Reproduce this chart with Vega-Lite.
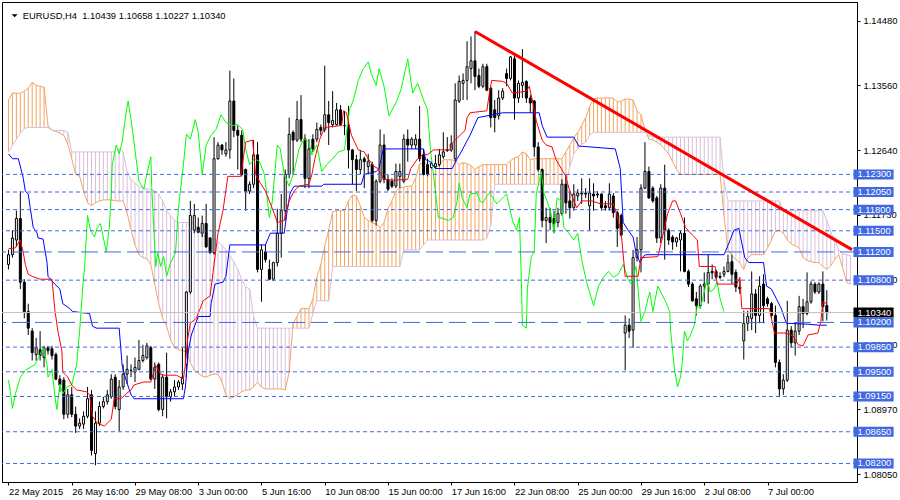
{
"$schema": "https://vega.github.io/schema/vega-lite/v6.json",
"width": 855, "height": 480,
"autosize": {"type": "none"},
"padding": {"left": 2, "top": 2, "right": 43, "bottom": 18},
"background": "white",
"config": {"view": {"stroke": "black", "strokeWidth": 1}, "font": "Liberation Sans"},
"datasets": {
"bars": [
{"i":0,"o":1.11022,"h":1.1123,"l":1.10952,"c":1.11161},
{"i":1,"o":1.11161,"h":1.11508,"l":1.11119,"c":1.11397},
{"i":2,"o":1.11369,"h":1.11785,"l":1.11272,"c":1.11674},
{"i":3,"o":1.11674,"h":1.12063,"l":1.10674,"c":1.10771},
{"i":4,"o":1.10771,"h":1.10813,"l":1.10258,"c":1.10354},
{"i":5,"o":1.10354,"h":1.10466,"l":1.10022,"c":1.10119},
{"i":6,"o":1.10077,"h":1.10119,"l":1.0966,"c":1.09772},
{"i":7,"o":1.09744,"h":1.0998,"l":1.0966,"c":1.09841},
{"i":8,"o":1.09813,"h":1.10077,"l":1.0966,"c":1.0973},
{"i":9,"o":1.09702,"h":1.09869,"l":1.09563,"c":1.09841},
{"i":10,"o":1.09841,"h":1.09869,"l":1.09744,"c":1.09799},
{"i":11,"o":1.09827,"h":1.09869,"l":1.09674,"c":1.0973},
{"i":12,"o":1.09744,"h":1.09772,"l":1.09382,"c":1.09396},
{"i":13,"o":1.09396,"h":1.09452,"l":1.09216,"c":1.09313},
{"i":14,"o":1.09382,"h":1.09424,"l":1.08827,"c":1.08897},
{"i":15,"o":1.08897,"h":1.09257,"l":1.08841,"c":1.09174},
{"i":16,"o":1.09174,"h":1.09285,"l":1.08855,"c":1.08897},
{"i":17,"o":1.08897,"h":1.09008,"l":1.08633,"c":1.0873},
{"i":18,"o":1.0873,"h":1.08841,"l":1.08688,"c":1.08772},
{"i":19,"o":1.08758,"h":1.08939,"l":1.08688,"c":1.08869},
{"i":20,"o":1.08869,"h":1.09285,"l":1.08841,"c":1.09118},
{"i":21,"o":1.09174,"h":1.09243,"l":1.08313,"c":1.08383},
{"i":22,"o":1.08341,"h":1.08939,"l":1.08174,"c":1.08772},
{"i":23,"o":1.08772,"h":1.09077,"l":1.0873,"c":1.09008},
{"i":24,"o":1.09008,"h":1.09146,"l":1.0898,"c":1.09077},
{"i":25,"o":1.09077,"h":1.09243,"l":1.09035,"c":1.09174},
{"i":26,"o":1.09146,"h":1.09466,"l":1.09118,"c":1.09396},
{"i":27,"o":1.09424,"h":1.09466,"l":1.08966,"c":1.09008},
{"i":28,"o":1.08966,"h":1.09382,"l":1.08661,"c":1.09285},
{"i":29,"o":1.09285,"h":1.09605,"l":1.09243,"c":1.09466},
{"i":30,"o":1.09466,"h":1.0973,"l":1.09327,"c":1.09535},
{"i":31,"o":1.09521,"h":1.09605,"l":1.09424,"c":1.09519},
{"i":32,"o":1.09494,"h":1.09702,"l":1.09355,"c":1.09563},
{"i":33,"o":1.09535,"h":1.09952,"l":1.09521,"c":1.0966},
{"i":34,"o":1.0966,"h":1.09883,"l":1.09633,"c":1.0973},
{"i":35,"o":1.09702,"h":1.09911,"l":1.09674,"c":1.09869},
{"i":36,"o":1.09841,"h":1.09869,"l":1.09382,"c":1.09396},
{"i":37,"o":1.09396,"h":1.09633,"l":1.09257,"c":1.09563},
{"i":38,"o":1.09605,"h":1.09633,"l":1.08939,"c":1.08966},
{"i":39,"o":1.08966,"h":1.09466,"l":1.08869,"c":1.09424},
{"i":40,"o":1.09424,"h":1.09772,"l":1.08841,"c":1.09146},
{"i":41,"o":1.09146,"h":1.09257,"l":1.09077,"c":1.09216},
{"i":42,"o":1.09216,"h":1.09382,"l":1.09146,"c":1.09285},
{"i":43,"o":1.09285,"h":1.09382,"l":1.09243,"c":1.09355},
{"i":44,"o":1.09327,"h":1.09841,"l":1.09243,"c":1.09424},
{"i":45,"o":1.09605,"h":1.10645,"l":1.09424,"c":1.10632},
{"i":46,"o":1.10632,"h":1.11924,"l":1.10605,"c":1.11716},
{"i":47,"o":1.11508,"h":1.11882,"l":1.11466,"c":1.11716},
{"i":48,"o":1.11549,"h":1.11688,"l":1.11466,"c":1.1148},
{"i":49,"o":1.11466,"h":1.11716,"l":1.11411,"c":1.11604},
{"i":50,"o":1.11604,"h":1.11882,"l":1.11258,"c":1.11272},
{"i":51,"o":1.11397,"h":1.11411,"l":1.11175,"c":1.11188},
{"i":52,"o":1.11188,"h":1.12828,"l":1.11161,"c":1.12522},
{"i":53,"o":1.12522,"h":1.12758,"l":1.12508,"c":1.12716},
{"i":54,"o":1.12716,"h":1.1273,"l":1.12577,"c":1.12647},
{"i":55,"o":1.12591,"h":1.12758,"l":1.1255,"c":1.12647},
{"i":56,"o":1.12647,"h":1.13772,"l":1.12522,"c":1.13341},
{"i":57,"o":1.13341,"h":1.13661,"l":1.12828,"c":1.12924},
{"i":58,"o":1.12924,"h":1.12993,"l":1.12369,"c":1.12855},
{"i":59,"o":1.12855,"h":1.12924,"l":1.12272,"c":1.12299},
{"i":60,"o":1.12369,"h":1.12383,"l":1.11785,"c":1.12063},
{"i":61,"o":1.12063,"h":1.12202,"l":1.12021,"c":1.1216},
{"i":62,"o":1.1216,"h":1.12786,"l":1.12105,"c":1.12577},
{"i":63,"o":1.12577,"h":1.12758,"l":1.1091,"c":1.10952},
{"i":64,"o":1.10952,"h":1.113,"l":1.10493,"c":1.1123},
{"i":65,"o":1.11202,"h":1.113,"l":1.11049,"c":1.11091},
{"i":66,"o":1.10952,"h":1.11091,"l":1.108,"c":1.10813},
{"i":67,"o":1.10813,"h":1.11063,"l":1.10785,"c":1.11049},
{"i":68,"o":1.11049,"h":1.11813,"l":1.10994,"c":1.11466},
{"i":69,"o":1.11466,"h":1.12021,"l":1.11119,"c":1.11785},
{"i":70,"o":1.11785,"h":1.12369,"l":1.11646,"c":1.12299},
{"i":71,"o":1.12299,"h":1.13105,"l":1.12244,"c":1.12869},
{"i":72,"o":1.12897,"h":1.12924,"l":1.12299,"c":1.12786},
{"i":73,"o":1.12786,"h":1.13341,"l":1.12758,"c":1.13077},
{"i":74,"o":1.13077,"h":1.13424,"l":1.12758,"c":1.128},
{"i":75,"o":1.128,"h":1.12869,"l":1.12105,"c":1.12244},
{"i":76,"o":1.12244,"h":1.128,"l":1.12105,"c":1.12661},
{"i":77,"o":1.128,"h":1.12869,"l":1.12619,"c":1.12661},
{"i":78,"o":1.128,"h":1.13035,"l":1.12758,"c":1.12938},
{"i":79,"o":1.12966,"h":1.13007,"l":1.12855,"c":1.12924},
{"i":80,"o":1.12938,"h":1.13841,"l":1.12897,"c":1.13146},
{"i":81,"o":1.13146,"h":1.13341,"l":1.12716,"c":1.13035},
{"i":82,"o":1.13007,"h":1.1348,"l":1.12966,"c":1.13063},
{"i":83,"o":1.13007,"h":1.13313,"l":1.12993,"c":1.13216},
{"i":84,"o":1.13216,"h":1.13285,"l":1.12993,"c":1.13007},
{"i":85,"o":1.12993,"h":1.13202,"l":1.12855,"c":1.1299},
{"i":86,"o":1.12993,"h":1.13271,"l":1.12383,"c":1.12647},
{"i":87,"o":1.12647,"h":1.12661,"l":1.1216,"c":1.12508},
{"i":88,"o":1.12508,"h":1.12577,"l":1.12063,"c":1.12369},
{"i":89,"o":1.12369,"h":1.12647,"l":1.12299,"c":1.12508},
{"i":90,"o":1.12522,"h":1.1255,"l":1.12105,"c":1.1248},
{"i":91,"o":1.12411,"h":1.12591,"l":1.12299,"c":1.1248},
{"i":92,"o":1.12438,"h":1.1248,"l":1.11618,"c":1.11646},
{"i":93,"o":1.11646,"h":1.1223,"l":1.11577,"c":1.12202},
{"i":94,"o":1.12202,"h":1.12938,"l":1.12174,"c":1.12716},
{"i":95,"o":1.12716,"h":1.12869,"l":1.12174,"c":1.1223},
{"i":96,"o":1.1223,"h":1.12299,"l":1.12063,"c":1.12091},
{"i":97,"o":1.12202,"h":1.12244,"l":1.12105,"c":1.12133},
{"i":98,"o":1.12133,"h":1.12452,"l":1.12105,"c":1.12341},
{"i":99,"o":1.12271,"h":1.12452,"l":1.12105,"c":1.12341},
{"i":100,"o":1.12202,"h":1.12869,"l":1.12174,"c":1.128},
{"i":101,"o":1.128,"h":1.12938,"l":1.1248,"c":1.12716},
{"i":102,"o":1.12716,"h":1.12828,"l":1.12661,"c":1.128},
{"i":103,"o":1.12716,"h":1.12869,"l":1.12661,"c":1.128},
{"i":104,"o":1.128,"h":1.13271,"l":1.1248,"c":1.12522},
{"i":105,"o":1.12577,"h":1.12661,"l":1.12285,"c":1.12299},
{"i":106,"o":1.12438,"h":1.12522,"l":1.12272,"c":1.12299},
{"i":107,"o":1.12397,"h":1.1248,"l":1.12383,"c":1.12452},
{"i":108,"o":1.12411,"h":1.12577,"l":1.12383,"c":1.12452},
{"i":109,"o":1.12438,"h":1.12661,"l":1.12411,"c":1.12577},
{"i":110,"o":1.1255,"h":1.12897,"l":1.12522,"c":1.12619},
{"i":111,"o":1.12647,"h":1.12828,"l":1.12619,"c":1.1264},
{"i":112,"o":1.12647,"h":1.12855,"l":1.12619,"c":1.1273},
{"i":113,"o":1.12522,"h":1.13591,"l":1.1248,"c":1.13355},
{"i":114,"o":1.13341,"h":1.13702,"l":1.13313,"c":1.13619},
{"i":115,"o":1.13591,"h":1.1373,"l":1.13355,"c":1.13633},
{"i":116,"o":1.13633,"h":1.14188,"l":1.13355,"c":1.13827},
{"i":117,"o":1.138,"h":1.14257,"l":1.13591,"c":1.13911},
{"i":118,"o":1.13911,"h":1.14327,"l":1.13494,"c":1.13688},
{"i":119,"o":1.13702,"h":1.138,"l":1.13522,"c":1.13549},
{"i":120,"o":1.13549,"h":1.13869,"l":1.13522,"c":1.13827},
{"i":121,"o":1.13827,"h":1.13869,"l":1.1348,"c":1.13494},
{"i":122,"o":1.13522,"h":1.13549,"l":1.12966,"c":1.13105},
{"i":123,"o":1.13216,"h":1.13355,"l":1.12897,"c":1.13105},
{"i":124,"o":1.13132,"h":1.13494,"l":1.13077,"c":1.13383},
{"i":125,"o":1.13383,"h":1.13522,"l":1.13355,"c":1.1348},
{"i":126,"o":1.1373,"h":1.138,"l":1.13549,"c":1.13661},
{"i":127,"o":1.13661,"h":1.1398,"l":1.13633,"c":1.13966},
{"i":128,"o":1.13939,"h":1.14008,"l":1.13077,"c":1.13383},
{"i":129,"o":1.13383,"h":1.13633,"l":1.13313,"c":1.13591},
{"i":130,"o":1.13563,"h":1.14077,"l":1.13383,"c":1.13605},
{"i":131,"o":1.13619,"h":1.13633,"l":1.13313,"c":1.13383},
{"i":132,"o":1.13383,"h":1.13424,"l":1.13174,"c":1.13313},
{"i":133,"o":1.13341,"h":1.13355,"l":1.1255,"c":1.12689},
{"i":134,"o":1.12689,"h":1.12758,"l":1.12341,"c":1.12369},
{"i":135,"o":1.12369,"h":1.12383,"l":1.11549,"c":1.11646},
{"i":136,"o":1.11646,"h":1.11827,"l":1.11327,"c":1.11688},
{"i":137,"o":1.11688,"h":1.11827,"l":1.11508,"c":1.11618},
{"i":138,"o":1.11674,"h":1.11785,"l":1.11466,"c":1.11604},
{"i":139,"o":1.11618,"h":1.11827,"l":1.11549,"c":1.11743},
{"i":140,"o":1.11743,"h":1.1223,"l":1.11716,"c":1.1216},
{"i":141,"o":1.1216,"h":1.12299,"l":1.11743,"c":1.11896},
{"i":142,"o":1.11924,"h":1.12063,"l":1.11674,"c":1.11827},
{"i":143,"o":1.11827,"h":1.1216,"l":1.11785,"c":1.12021},
{"i":144,"o":1.11994,"h":1.12091,"l":1.11924,"c":1.12035},
{"i":145,"o":1.12021,"h":1.12244,"l":1.11882,"c":1.12035},
{"i":146,"o":1.12035,"h":1.12105,"l":1.11966,"c":1.12021},
{"i":147,"o":1.11855,"h":1.12244,"l":1.11508,"c":1.12035},
{"i":148,"o":1.12021,"h":1.12174,"l":1.11785,"c":1.11994},
{"i":149,"o":1.12021,"h":1.12063,"l":1.11966,"c":1.12007},
{"i":150,"o":1.12021,"h":1.1203,"l":1.11785,"c":1.11827},
{"i":151,"o":1.11855,"h":1.11924,"l":1.11785,"c":1.11827},
{"i":152,"o":1.11827,"h":1.12174,"l":1.11785,"c":1.12021},
{"i":153,"o":1.11994,"h":1.12035,"l":1.11688,"c":1.11757},
{"i":154,"o":1.11757,"h":1.11785,"l":1.11272,"c":1.11535},
{"i":155,"o":1.11716,"h":1.11743,"l":1.11411,"c":1.11439},
{"i":156,"o":1.1005,"h":1.10299,"l":1.09521,"c":1.10161},
{"i":157,"o":1.10161,"h":1.10258,"l":1.0998,"c":1.10077},
{"i":158,"o":1.10091,"h":1.1123,"l":1.09841,"c":1.11119},
{"i":159,"o":1.11119,"h":1.11411,"l":1.11063,"c":1.1123},
{"i":160,"o":1.1123,"h":1.1216,"l":1.1091,"c":1.12105},
{"i":161,"o":1.12105,"h":1.12758,"l":1.12091,"c":1.12341},
{"i":162,"o":1.12341,"h":1.12411,"l":1.11952,"c":1.11966},
{"i":163,"o":1.12105,"h":1.12133,"l":1.11896,"c":1.11924},
{"i":164,"o":1.11966,"h":1.11994,"l":1.11327,"c":1.11397},
{"i":165,"o":1.11397,"h":1.1216,"l":1.11327,"c":1.12105},
{"i":166,"o":1.12105,"h":1.12438,"l":1.11091,"c":1.11508},
{"i":167,"o":1.11508,"h":1.11535,"l":1.113,"c":1.11369},
{"i":168,"o":1.11411,"h":1.11439,"l":1.1123,"c":1.11341},
{"i":169,"o":1.11341,"h":1.11411,"l":1.11272,"c":1.11397},
{"i":170,"o":1.11369,"h":1.11508,"l":1.10924,"c":1.11466},
{"i":171,"o":1.11466,"h":1.11688,"l":1.1091,"c":1.10924},
{"i":172,"o":1.10924,"h":1.10952,"l":1.10702,"c":1.10744},
{"i":173,"o":1.10744,"h":1.10771,"l":1.10493,"c":1.10507},
{"i":174,"o":1.10535,"h":1.10632,"l":1.10299,"c":1.10438},
{"i":175,"o":1.10438,"h":1.10744,"l":1.10396,"c":1.10716},
{"i":176,"o":1.10716,"h":1.1091,"l":1.10493,"c":1.10744},
{"i":177,"o":1.10744,"h":1.11161,"l":1.10466,"c":1.1091},
{"i":178,"o":1.10924,"h":1.11022,"l":1.10813,"c":1.10905},
{"i":179,"o":1.10924,"h":1.10952,"l":1.10813,"c":1.10841},
{"i":180,"o":1.10855,"h":1.1091,"l":1.10813,"c":1.10841},
{"i":181,"o":1.10883,"h":1.10994,"l":1.10841,"c":1.10924},
{"i":182,"o":1.10924,"h":1.11161,"l":1.1091,"c":1.11049},
{"i":183,"o":1.11063,"h":1.11161,"l":1.10744,"c":1.10883},
{"i":184,"o":1.1091,"h":1.10952,"l":1.10632,"c":1.10702},
{"i":185,"o":1.10702,"h":1.10813,"l":1.10605,"c":1.10674},
{"i":186,"o":1.09938,"h":1.10368,"l":1.09674,"c":1.10189},
{"i":187,"o":1.10189,"h":1.10368,"l":1.10077,"c":1.10285},
{"i":188,"o":1.10258,"h":1.10924,"l":1.10091,"c":1.10605},
{"i":189,"o":1.10605,"h":1.10674,"l":1.1005,"c":1.10299},
{"i":190,"o":1.10299,"h":1.10855,"l":1.10189,"c":1.10716},
{"i":191,"o":1.10744,"h":1.10883,"l":1.10189,"c":1.10438},
{"i":192,"o":1.10535,"h":1.10563,"l":1.10424,"c":1.10466},
{"i":193,"o":1.10466,"h":1.10493,"l":1.10258,"c":1.10299},
{"i":194,"o":1.10299,"h":1.10438,"l":1.09563,"c":1.09633},
{"i":195,"o":1.09633,"h":1.09674,"l":1.09146,"c":1.09257},
{"i":196,"o":1.09257,"h":1.09466,"l":1.09174,"c":1.09382},
{"i":197,"o":1.09382,"h":1.10507,"l":1.09355,"c":1.10091},
{"i":198,"o":1.10091,"h":1.10147,"l":1.09841,"c":1.09911},
{"i":199,"o":1.09911,"h":1.10189,"l":1.0973,"c":1.10077},
{"i":200,"o":1.10077,"h":1.10577,"l":1.10022,"c":1.10424},
{"i":201,"o":1.10424,"h":1.10535,"l":1.10119,"c":1.10327},
{"i":202,"o":1.10327,"h":1.1091,"l":1.10299,"c":1.10493},
{"i":203,"o":1.10493,"h":1.10785,"l":1.10466,"c":1.10744},
{"i":204,"o":1.10744,"h":1.10771,"l":1.10605,"c":1.10632},
{"i":205,"o":1.10632,"h":1.10771,"l":1.10605,"c":1.10744},
{"i":206,"o":1.10744,"h":1.10924,"l":1.10216,"c":1.10424},
{"i":207,"o":1.10439,"h":1.10658,"l":1.10227,"c":1.1034}
],
"cloud": [
{"i":0,"a":1.13355,"b":1.12619},{"i":1,"a":1.13452,"b":1.12716},{"i":2,"a":1.13452,"b":1.128},{"i":3,"a":1.13452,"b":1.12883},
{"i":4,"a":1.1348,"b":1.12952},{"i":5,"a":1.13522,"b":1.12966},{"i":6,"a":1.13605,"b":1.12966},{"i":7,"a":1.13563,"b":1.12966},
{"i":8,"a":1.13549,"b":1.12966},{"i":9,"a":1.13535,"b":1.12966},{"i":10,"a":1.12993,"b":1.12966},{"i":11,"a":1.12924,"b":1.12924},
{"i":12,"a":1.1291,"b":1.12924},{"i":13,"a":1.12883,"b":1.12924},{"i":14,"a":1.12855,"b":1.12924},{"i":15,"a":1.1273,"b":1.12897},
{"i":16,"a":1.12522,"b":1.12619},{"i":17,"a":1.12299,"b":1.12619},{"i":18,"a":1.12272,"b":1.12619},{"i":19,"a":1.12063,"b":1.12619},
{"i":20,"a":1.11896,"b":1.12619},{"i":21,"a":1.11855,"b":1.12619},{"i":22,"a":1.11896,"b":1.12619},{"i":23,"a":1.11924,"b":1.12619},
{"i":24,"a":1.11938,"b":1.12619},{"i":25,"a":1.11938,"b":1.12619},{"i":26,"a":1.11938,"b":1.12619},{"i":27,"a":1.11924,"b":1.12619},
{"i":28,"a":1.11924,"b":1.12661},{"i":29,"a":1.11924,"b":1.12619},{"i":30,"a":1.11757,"b":1.12341},{"i":31,"a":1.11508,"b":1.1223},
{"i":32,"a":1.113,"b":1.12174},{"i":33,"a":1.11161,"b":1.12133},{"i":34,"a":1.11119,"b":1.12105},{"i":35,"a":1.11105,"b":1.12091},
{"i":36,"a":1.11022,"b":1.12091},{"i":37,"a":1.10744,"b":1.12063},{"i":38,"a":1.10466,"b":1.12021},{"i":39,"a":1.10258,"b":1.11924},
{"i":40,"a":1.10147,"b":1.11785},{"i":41,"a":1.09952,"b":1.11716},{"i":42,"a":1.09841,"b":1.11646},{"i":43,"a":1.09813,"b":1.11618},
{"i":44,"a":1.09799,"b":1.11618},{"i":45,"a":1.09785,"b":1.11618},{"i":46,"a":1.09633,"b":1.11618},{"i":47,"a":1.09521,"b":1.11618},
{"i":48,"a":1.0948,"b":1.11508},{"i":49,"a":1.09438,"b":1.11439},{"i":50,"a":1.09424,"b":1.11411},{"i":51,"a":1.09452,"b":1.11397},
{"i":52,"a":1.09466,"b":1.11397},{"i":53,"a":1.09466,"b":1.11341},{"i":54,"a":1.09355,"b":1.113},{"i":55,"a":1.09174,"b":1.1123},
{"i":56,"a":1.09118,"b":1.11147},{"i":57,"a":1.09146,"b":1.11063},{"i":58,"a":1.09174,"b":1.10952},{"i":59,"a":1.09216,"b":1.10813},
{"i":60,"a":1.09243,"b":1.10702},{"i":61,"a":1.09243,"b":1.10674},{"i":62,"a":1.09285,"b":1.10285},{"i":63,"a":1.09355,"b":1.10119},
{"i":64,"a":1.09285,"b":1.10119},{"i":65,"a":1.09257,"b":1.10119},{"i":66,"a":1.09257,"b":1.10119},{"i":67,"a":1.09257,"b":1.10119},
{"i":68,"a":1.09257,"b":1.10119},{"i":69,"a":1.09257,"b":1.10119},{"i":70,"a":1.09243,"b":1.10119},{"i":71,"a":1.09494,"b":1.10119},
{"i":72,"a":1.10189,"b":1.10119},{"i":73,"a":1.10285,"b":1.10119},{"i":74,"a":1.10396,"b":1.10119},{"i":75,"a":1.10396,"b":1.10119},
{"i":76,"a":1.10396,"b":1.10119},{"i":77,"a":1.10535,"b":1.10327},{"i":78,"a":1.10841,"b":1.10507},{"i":79,"a":1.11022,"b":1.10507},
{"i":80,"a":1.11286,"b":1.10507},{"i":81,"a":1.11508,"b":1.10507},{"i":82,"a":1.11771,"b":1.10994},{"i":83,"a":1.11785,"b":1.10994},
{"i":84,"a":1.11785,"b":1.10994},{"i":85,"a":1.11785,"b":1.10994},{"i":86,"a":1.11924,"b":1.10994},{"i":87,"a":1.12007,"b":1.10994},
{"i":88,"a":1.11994,"b":1.10994},{"i":89,"a":1.11855,"b":1.10994},{"i":90,"a":1.11688,"b":1.10994},{"i":91,"a":1.11646,"b":1.10994},
{"i":92,"a":1.11618,"b":1.10994},{"i":93,"a":1.1159,"b":1.10994},{"i":94,"a":1.11549,"b":1.10994},{"i":95,"a":1.11618,"b":1.10994},
{"i":96,"a":1.11813,"b":1.10994},{"i":97,"a":1.11924,"b":1.10994},{"i":98,"a":1.12063,"b":1.10994},{"i":99,"a":1.12105,"b":1.10994},
{"i":100,"a":1.12119,"b":1.1123},{"i":101,"a":1.12133,"b":1.1123},{"i":102,"a":1.12133,"b":1.1123},{"i":103,"a":1.12244,"b":1.1123},
{"i":104,"a":1.12452,"b":1.1123},{"i":105,"a":1.12452,"b":1.113},{"i":106,"a":1.12466,"b":1.11369},{"i":107,"a":1.12452,"b":1.11369},
{"i":108,"a":1.12383,"b":1.11369},{"i":109,"a":1.12438,"b":1.11369},{"i":110,"a":1.12508,"b":1.11369},{"i":111,"a":1.12508,"b":1.11369},
{"i":112,"a":1.12508,"b":1.11369},{"i":113,"a":1.12494,"b":1.11369},{"i":114,"a":1.12438,"b":1.11369},{"i":115,"a":1.12466,"b":1.11369},
{"i":116,"a":1.12452,"b":1.11369},{"i":117,"a":1.12424,"b":1.11369},{"i":118,"a":1.12369,"b":1.11369},{"i":119,"a":1.12411,"b":1.11369},
{"i":120,"a":1.12438,"b":1.11369},{"i":121,"a":1.12438,"b":1.11397},{"i":122,"a":1.12438,"b":1.11577},{"i":123,"a":1.12438,"b":1.1216},
{"i":124,"a":1.12438,"b":1.1216},{"i":125,"a":1.12438,"b":1.1216},{"i":126,"a":1.12438,"b":1.1216},{"i":127,"a":1.12494,"b":1.1216},
{"i":128,"a":1.12536,"b":1.1216},{"i":129,"a":1.1255,"b":1.1216},{"i":130,"a":1.12619,"b":1.1216},{"i":131,"a":1.12591,"b":1.1216},
{"i":132,"a":1.12508,"b":1.1216},{"i":133,"a":1.12522,"b":1.1216},{"i":134,"a":1.12522,"b":1.1216},{"i":135,"a":1.12522,"b":1.1216},
{"i":136,"a":1.12522,"b":1.1216},{"i":137,"a":1.12522,"b":1.1216},{"i":138,"a":1.12522,"b":1.1216},{"i":139,"a":1.12522,"b":1.1216},
{"i":140,"a":1.12522,"b":1.1216},{"i":141,"a":1.12619,"b":1.1216},{"i":142,"a":1.12716,"b":1.12411},{"i":143,"a":1.12814,"b":1.12591},
{"i":144,"a":1.12897,"b":1.12661},{"i":145,"a":1.12993,"b":1.1273},{"i":146,"a":1.13105,"b":1.12758},{"i":147,"a":1.13257,"b":1.12855},
{"i":148,"a":1.13369,"b":1.12897},{"i":149,"a":1.13383,"b":1.12897},{"i":150,"a":1.13383,"b":1.12897},{"i":151,"a":1.13383,"b":1.12897},
{"i":152,"a":1.13383,"b":1.12897},{"i":153,"a":1.13383,"b":1.12897},{"i":154,"a":1.13327,"b":1.12897},{"i":155,"a":1.13341,"b":1.12897},
{"i":156,"a":1.13369,"b":1.12897},{"i":157,"a":1.13369,"b":1.12897},{"i":158,"a":1.13355,"b":1.12897},{"i":159,"a":1.13202,"b":1.12897},
{"i":160,"a":1.13146,"b":1.12897},{"i":161,"a":1.12938,"b":1.12897},{"i":162,"a":1.128,"b":1.12855},{"i":163,"a":1.12786,"b":1.12828},
{"i":164,"a":1.12758,"b":1.12828},{"i":165,"a":1.12716,"b":1.12828},{"i":166,"a":1.12661,"b":1.12828},{"i":167,"a":1.12591,"b":1.12828},
{"i":168,"a":1.1248,"b":1.12828},{"i":169,"a":1.12369,"b":1.12828},{"i":170,"a":1.12299,"b":1.12828},{"i":171,"a":1.12299,"b":1.12828},
{"i":172,"a":1.12299,"b":1.12828},{"i":173,"a":1.12299,"b":1.12828},{"i":174,"a":1.12299,"b":1.12828},{"i":175,"a":1.12299,"b":1.12828},
{"i":176,"a":1.12299,"b":1.12828},{"i":177,"a":1.12299,"b":1.12828},{"i":178,"a":1.12299,"b":1.12828},{"i":179,"a":1.12299,"b":1.12828},
{"i":180,"a":1.12299,"b":1.12828},{"i":181,"a":1.11716,"b":1.12202},{"i":182,"a":1.1123,"b":1.11924},{"i":183,"a":1.11147,"b":1.11924},
{"i":184,"a":1.11091,"b":1.11924},{"i":185,"a":1.11049,"b":1.11924},{"i":186,"a":1.10952,"b":1.11924},{"i":187,"a":1.11119,"b":1.11924},
{"i":188,"a":1.11161,"b":1.11924},{"i":189,"a":1.11161,"b":1.11924},{"i":190,"a":1.11161,"b":1.11924},{"i":191,"a":1.11161,"b":1.11924},
{"i":192,"a":1.11258,"b":1.11924},{"i":193,"a":1.11369,"b":1.11924},{"i":194,"a":1.11494,"b":1.11924},{"i":195,"a":1.11508,"b":1.11924},
{"i":196,"a":1.11466,"b":1.11785},{"i":197,"a":1.11369,"b":1.11785},{"i":198,"a":1.11313,"b":1.11785},{"i":199,"a":1.11286,"b":1.11785},
{"i":200,"a":1.11258,"b":1.11785},{"i":201,"a":1.11119,"b":1.11785},{"i":202,"a":1.11077,"b":1.11785},{"i":203,"a":1.11063,"b":1.11785},
{"i":204,"a":1.11049,"b":1.11785},{"i":205,"a":1.11049,"b":1.11785},{"i":206,"a":1.10994,"b":1.11785},{"i":207,"a":1.10952,"b":1.11646},
{"i":208,"a":1.11008,"b":1.1148},{"i":209,"a":1.11091,"b":1.11369},{"i":210,"a":1.11161,"b":1.1123},{"i":211,"a":1.1098,"b":1.11174},
{"i":212,"a":1.10771,"b":1.11161},{"i":213,"a":1.10744,"b":1.11147}
],
"tenkan": [
{"i":0,"v":1.11244},{"i":1.75,"v":1.11258},{"i":3,"v":1.11369},{"i":3.75,"v":1.11188},{"i":4.25,"v":1.11022},{"i":5,"v":1.10883},{"i":6,"v":1.10855},{"i":8,"v":1.10813},{"i":11,"v":1.10813},{"i":11.75,"v":1.10368},{"i":12.5,"v":1.10077},{"i":13.5,"v":1.09799},{"i":13.75,"v":1.09494},{"i":15,"v":1.09424},{"i":16,"v":1.09313},{"i":17.25,"v":1.09243},{"i":19.75,"v":1.09216},{"i":20.5,"v":1.09174},{"i":21.25,"v":1.08869},{"i":22.5,"v":1.08772},{"i":24.25,"v":1.0873},{"i":26,"v":1.08827},{"i":26.75,"v":1.09118},{"i":28.5,"v":1.09118},{"i":29.75,"v":1.09188},{"i":31,"v":1.09243},{"i":31.75,"v":1.09313},{"i":32.5,"v":1.09327},{"i":34.25,"v":1.09355},{"i":36,"v":1.09355},{"i":37.25,"v":1.09591},{"i":38.5,"v":1.09466},{"i":39.25,"v":1.09452},{"i":42.5,"v":1.09452},{"i":44.25,"v":1.09396},{"i":44.75,"v":1.09605},{"i":45.25,"v":1.09938},{"i":46,"v":1.10189},{"i":47.5,"v":1.10258},{"i":49.25,"v":1.10507},{"i":51,"v":1.10577},{"i":51.75,"v":1.1091},{"i":53,"v":1.11466},{"i":54.25,"v":1.11785},{"i":55.5,"v":1.12272},{"i":58.75,"v":1.12272},{"i":60,"v":1.12758},{"i":61.75,"v":1.12786},{"i":62.5,"v":1.12299},{"i":63.75,"v":1.12174},{"i":65,"v":1.12063},{"i":67.25,"v":1.11743},{"i":68,"v":1.11618},{"i":69.75,"v":1.11646},{"i":71,"v":1.11924},{"i":72.25,"v":1.12063},{"i":73.5,"v":1.12133},{"i":76,"v":1.1216},{"i":76.75,"v":1.12299},{"i":77.5,"v":1.12522},{"i":78.75,"v":1.128},{"i":80,"v":1.12966},{"i":84.25,"v":1.12993},{"i":84.75,"v":1.13202},{"i":85.5,"v":1.13174},{"i":86.75,"v":1.12855},{"i":88.5,"v":1.12647},{"i":90,"v":1.12619},{"i":91,"v":1.12522},{"i":92.5,"v":1.12411},{"i":93.5,"v":1.12383},{"i":94.25,"v":1.12299},{"i":95,"v":1.1223},{"i":97.25,"v":1.12216},{"i":101,"v":1.1223},{"i":101.75,"v":1.12383},{"i":103.5,"v":1.12522},{"i":105,"v":1.12591},{"i":106,"v":1.12577},{"i":107.5,"v":1.12647},{"i":111.75,"v":1.12647},{"i":112.5,"v":1.12758},{"i":114.25,"v":1.12855},{"i":115.5,"v":1.12924},{"i":116,"v":1.13105},{"i":116.75,"v":1.13174},{"i":121,"v":1.13202},{"i":121.75,"v":1.13494},{"i":122.25,"v":1.13633},{"i":125,"v":1.13619},{"i":126,"v":1.13591},{"i":127.5,"v":1.13452},{"i":131,"v":1.1348},{"i":131.75,"v":1.13549},{"i":132.5,"v":1.13355},{"i":133.5,"v":1.13063},{"i":135,"v":1.12786},{"i":136,"v":1.12716},{"i":137.5,"v":1.12689},{"i":138.5,"v":1.12508},{"i":139.25,"v":1.12438},{"i":141,"v":1.12272},{"i":141.75,"v":1.12105},{"i":143,"v":1.11924},{"i":143.75,"v":1.11827},{"i":145,"v":1.11924},{"i":147.5,"v":1.11924},{"i":149.75,"v":1.11882},{"i":153,"v":1.11882},{"i":153.75,"v":1.11757},{"i":155,"v":1.11466},{"i":156,"v":1.10855},{"i":159.25,"v":1.10855},{"i":160,"v":1.11119},{"i":164.25,"v":1.11133},{"i":165,"v":1.113},{"i":166.75,"v":1.11743},{"i":168,"v":1.11924},{"i":168.75,"v":1.11924},{"i":170,"v":1.11743},{"i":171.25,"v":1.11549},{"i":173,"v":1.11439},{"i":174.25,"v":1.11369},{"i":174.75,"v":1.10994},{"i":178.75,"v":1.10994},{"i":179.25,"v":1.10744},{"i":184.25,"v":1.10744},{"i":185,"v":1.10841},{"i":185.5,"v":1.10396},{"i":192.5,"v":1.10396},{"i":193.75,"v":1.1005},{"i":196.75,"v":1.1005},{"i":198.5,"v":1.10008},{"i":199.75,"v":1.09883},{"i":201,"v":1.09869},{"i":202.25,"v":1.10022},{"i":204.75,"v":1.1005},{"i":205.5,"v":1.10216},{"i":206,"v":1.10493},{"i":207,"v":1.10466}
],
"kijun": [
{"i":0,"v":1.12591},{"i":1,"v":1.12522},{"i":2.5,"v":1.12522},{"i":3.75,"v":1.12244},{"i":4.25,"v":1.12063},{"i":5,"v":1.12021},{"i":5.5,"v":1.11827},{"i":6.25,"v":1.11549},{"i":7.25,"v":1.11466},{"i":7.5,"v":1.11397},{"i":8.75,"v":1.11383},{"i":9.75,"v":1.11049},{"i":10,"v":1.10855},{"i":11.25,"v":1.10771},{"i":13,"v":1.10674},{"i":13.75,"v":1.10466},{"i":15.5,"v":1.10396},{"i":16.25,"v":1.10354},{"i":20.5,"v":1.10327},{"i":21.25,"v":1.10147},{"i":22.25,"v":1.10119},{"i":28,"v":1.10119},{"i":28.75,"v":1.09591},{"i":29.75,"v":1.09382},{"i":31,"v":1.09174},{"i":31.75,"v":1.09118},{"i":44.25,"v":1.09118},{"i":44.75,"v":1.09285},{"i":45.5,"v":1.09799},{"i":46.25,"v":1.10022},{"i":48,"v":1.10285},{"i":51,"v":1.10285},{"i":51.25,"v":1.10466},{"i":52.25,"v":1.10744},{"i":54.25,"v":1.10771},{"i":55,"v":1.10855},{"i":56,"v":1.113},{"i":65,"v":1.113},{"i":66.25,"v":1.11466},{"i":69.75,"v":1.11466},{"i":70.5,"v":1.11785},{"i":71.25,"v":1.12035},{"i":72.25,"v":1.12133},{"i":79.25,"v":1.12133},{"i":79.75,"v":1.1216},{"i":89.25,"v":1.1216},{"i":90,"v":1.12299},{"i":93,"v":1.12341},{"i":93.75,"v":1.12383},{"i":94.75,"v":1.12647},{"i":95,"v":1.12661},{"i":105,"v":1.12661},{"i":105.5,"v":1.12508},{"i":106.75,"v":1.1248},{"i":108,"v":1.12383},{"i":112.25,"v":1.12383},{"i":113.5,"v":1.12522},{"i":114.25,"v":1.12591},{"i":116.75,"v":1.12855},{"i":118.75,"v":1.13105},{"i":125,"v":1.13174},{"i":134.25,"v":1.13174},{"i":135,"v":1.12993},{"i":136.25,"v":1.12828},{"i":143,"v":1.12828},{"i":144.25,"v":1.12702},{"i":153.5,"v":1.12661},{"i":154.75,"v":1.12383},{"i":155.5,"v":1.11618},{"i":156.75,"v":1.11508},{"i":158,"v":1.11411},{"i":158.75,"v":1.11188},{"i":159.75,"v":1.11049},{"i":160.5,"v":1.11133},{"i":161.25,"v":1.11161},{"i":181,"v":1.11161},{"i":182.25,"v":1.11327},{"i":183.5,"v":1.11508},{"i":184.75,"v":1.11535},{"i":185.5,"v":1.11327},{"i":186.25,"v":1.11119},{"i":187.25,"v":1.11049},{"i":191,"v":1.11049},{"i":191.75,"v":1.10716},{"i":193,"v":1.10674},{"i":194.25,"v":1.10535},{"i":195.5,"v":1.10396},{"i":196.75,"v":1.10189},{"i":202.25,"v":1.10175},{"i":205,"v":1.10161},{"i":207,"v":1.10161}
],
"chikou": [
{"i":0,"v":1.09382},{"i":0.5,"v":1.09216},{"i":1,"v":1.0898},{"i":1.75,"v":1.09188},{"i":3,"v":1.09424},{"i":4.25,"v":1.09521},{"i":5.5,"v":1.09563},{"i":6.75,"v":1.09605},{"i":8,"v":1.09744},{"i":8.75,"v":1.09841},{"i":9.75,"v":1.09605},{"i":10,"v":1.09424},{"i":11,"v":1.09535},{"i":11.75,"v":1.09146},{"i":12.25,"v":1.08966},{"i":13,"v":1.09327},{"i":13.75,"v":1.09188},{"i":14.75,"v":1.09285},{"i":16,"v":1.09313},{"i":17.25,"v":1.09605},{"i":18,"v":1.10077},{"i":18.75,"v":1.10674},{"i":19.25,"v":1.10994},{"i":19.75,"v":1.11466},{"i":20,"v":1.11716},{"i":20.75,"v":1.11508},{"i":21.75,"v":1.11411},{"i":22.5,"v":1.11549},{"i":23.25,"v":1.11604},{"i":23.75,"v":1.11466},{"i":24.75,"v":1.11202},{"i":25.5,"v":1.11549},{"i":26,"v":1.12021},{"i":26.25,"v":1.12438},{"i":27.25,"v":1.12716},{"i":28,"v":1.12591},{"i":28.75,"v":1.12758},{"i":29.75,"v":1.13174},{"i":30.25,"v":1.13341},{"i":31,"v":1.13077},{"i":31.75,"v":1.12758},{"i":33,"v":1.12202},{"i":34.25,"v":1.12091},{"i":35,"v":1.12299},{"i":36,"v":1.1255},{"i":36.25,"v":1.12105},{"i":37.25,"v":1.10994},{"i":37.75,"v":1.11188},{"i":38.5,"v":1.10994},{"i":39.25,"v":1.11133},{"i":40,"v":1.10855},{"i":41,"v":1.11049},{"i":42.25,"v":1.11188},{"i":43,"v":1.11827},{"i":44.25,"v":1.12438},{"i":45,"v":1.12869},{"i":46,"v":1.128},{"i":47.25,"v":1.13077},{"i":48,"v":1.12897},{"i":49,"v":1.12299},{"i":50,"v":1.12716},{"i":51.25,"v":1.12855},{"i":52.5,"v":1.12938},{"i":53.75,"v":1.13146},{"i":55,"v":1.13035},{"i":56.75,"v":1.12993},{"i":58,"v":1.13007},{"i":59.25,"v":1.12938},{"i":60,"v":1.12661},{"i":61,"v":1.12438},{"i":62.25,"v":1.12522},{"i":63.5,"v":1.1248},{"i":64.75,"v":1.12299},{"i":66,"v":1.11688},{"i":66.75,"v":1.11924},{"i":68,"v":1.12716},{"i":68.75,"v":1.12661},{"i":69.75,"v":1.12299},{"i":71,"v":1.12133},{"i":72.25,"v":1.12341},{"i":73.5,"v":1.12661},{"i":74.75,"v":1.128},{"i":76,"v":1.12758},{"i":76.75,"v":1.12577},{"i":78,"v":1.12716},{"i":79.25,"v":1.12341},{"i":80.5,"v":1.12438},{"i":81.75,"v":1.12508},{"i":83.5,"v":1.12619},{"i":85,"v":1.12647},{"i":86.25,"v":1.13216},{"i":87.25,"v":1.13355},{"i":88.5,"v":1.13633},{"i":89.75,"v":1.138},{"i":91,"v":1.13897},{"i":91.75,"v":1.1373},{"i":93,"v":1.13563},{"i":93.75,"v":1.138},{"i":95,"v":1.13549},{"i":96.25,"v":1.13132},{"i":98,"v":1.13313},{"i":99.25,"v":1.13494},{"i":101,"v":1.13939},{"i":102.25,"v":1.13452},{"i":103.5,"v":1.13591},{"i":105,"v":1.13355},{"i":106,"v":1.13216},{"i":106.75,"v":1.12647},{"i":107.5,"v":1.12299},{"i":108.75,"v":1.11688},{"i":110,"v":1.11674},{"i":111.25,"v":1.11646},{"i":112.5,"v":1.11688},{"i":113.5,"v":1.11924},{"i":114,"v":1.12174},{"i":114.75,"v":1.11966},{"i":116,"v":1.11827},{"i":116.75,"v":1.12021},{"i":118.5,"v":1.12035},{"i":119.25,"v":1.11924},{"i":120,"v":1.11896},{"i":121,"v":1.11994},{"i":121.75,"v":1.12035},{"i":123.5,"v":1.11882},{"i":125,"v":1.11966},{"i":126,"v":1.12021},{"i":126.75,"v":1.11827},{"i":127.5,"v":1.11646},{"i":128.5,"v":1.11508},{"i":129.25,"v":1.11688},{"i":129.75,"v":1.10771},{"i":130,"v":1.10161},{"i":131,"v":1.10119},{"i":131.25,"v":1.10674},{"i":132.25,"v":1.11133},{"i":133,"v":1.11202},{"i":133.5,"v":1.12021},{"i":134.25,"v":1.12202},{"i":134.75,"v":1.12341},{"i":135.5,"v":1.12021},{"i":136.25,"v":1.11924},{"i":137.25,"v":1.11743},{"i":138,"v":1.11466},{"i":138.75,"v":1.11966},{"i":139.75,"v":1.11924},{"i":140.5,"v":1.11549},{"i":141.75,"v":1.11466},{"i":143,"v":1.11369},{"i":144,"v":1.11466},{"i":145,"v":1.11091},{"i":146.25,"v":1.10771},{"i":148,"v":1.10438},{"i":149.25,"v":1.10716},{"i":150.5,"v":1.10841},{"i":151.75,"v":1.10924},{"i":153,"v":1.10841},{"i":154.25,"v":1.10883},{"i":155.5,"v":1.11022},{"i":156.75,"v":1.10813},{"i":157.5,"v":1.10744},{"i":158.75,"v":1.10994},{"i":160,"v":1.10216},{"i":161,"v":1.10354},{"i":161.75,"v":1.10535},{"i":162.25,"v":1.10632},{"i":163,"v":1.10354},{"i":164.25,"v":1.10716},{"i":165,"v":1.10632},{"i":166.25,"v":1.10493},{"i":167.25,"v":1.10354},{"i":167.5,"v":1.10077},{"i":168.5,"v":1.09521},{"i":169.25,"v":1.09285},{"i":170,"v":1.09424},{"i":170.5,"v":1.0966},{"i":171,"v":1.10077},{"i":171.75,"v":1.09938},{"i":172.5,"v":1.10022},{"i":173.5,"v":1.10161},{"i":174.25,"v":1.10438},{"i":175,"v":1.10396},{"i":176,"v":1.10632},{"i":176.75,"v":1.10813},{"i":177.5,"v":1.10632},{"i":178.5,"v":1.10674},{"i":179.25,"v":1.10771},{"i":180,"v":1.10535},{"i":181,"v":1.10354}
],
"levels": [
{"p":1.123,"kind":"level"},{"p":1.1205,"kind":"level"},{"p":1.118,"kind":"level"},{"p":1.115,"kind":"level"},
{"p":1.112,"kind":"major"},{"p":1.108,"kind":"level"},{"p":1.1034,"kind":"bid"},{"p":1.102,"kind":"major"},
{"p":1.0985,"kind":"level"},{"p":1.095,"kind":"level"},{"p":1.0915,"kind":"level"},{"p":1.0865,"kind":"level"},{"p":1.082,"kind":"level"}
],
"trend": [{"i":118,"v":1.14327},{"i":213.375,"v":1.11233}]
},
"layer": [
{
"data": {"name": "cloud"},
"mark": {"type": "rule", "strokeWidth": 1},
"encoding": {
"x": {"field": "i", "type": "quantitative",
"scale": {"domain": [-0.375, 213.375], "nice": false, "zero": false},
"axis": {"orient": "bottom", "title": null, "grid": false,
"values": [0,16,32,48,64,80,96,112,128,144,160,176,192],
"labelExpr": "['22 May 2015','26 May 16:00','29 May 08:00','3 Jun 00:00','5 Jun 16:00','10 Jun 08:00','15 Jun 00:00','17 Jun 16:00','22 Jun 08:00','25 Jun 00:00','29 Jun 16:00','2 Jul 08:00','7 Jul 00:00'][round(datum.value/16)]",
"tickSize": 3, "tickColor": "black", "domainColor": "black",
"labelAlign": "left", "labelBaseline": "top", "labelPadding": 2,
"labelFont": "Liberation Sans", "labelFontSize": 9.4, "labelColor": "black",
"labelOverlap": false, "labelFlush": false, "labelBound": false}},
"y": {"field": "a", "type": "quantitative",
"scale": {"domain": [1.08008, 1.14674], "nice": false, "zero": false},
"axis": {"orient": "right", "title": null, "grid": false,
"values": [1.0805,1.08509,1.08969,1.09428,1.09887,1.10346,1.10806,1.11267,1.11726,1.12184,1.12643,1.13102,1.13561,1.14021,1.1448],
"labelExpr": "format(datum.value,'.4f')+'0'",
"tickSize": 3, "tickColor": "black", "domainColor": "black", "labelPadding": 3,
"labelFont": "Liberation Sans", "labelFontSize": 9.4, "labelColor": "black",
"labelOverlap": false, "labelFlush": false, "labelBaseline": "middle"}},
"y2": {"field": "b"},
"color": {"condition": {"test": "datum.a >= datum.b", "value": "#F4A460"}, "value": "#D8BFD8"}
}
},
{"data": {"name": "cloud"}, "mark": {"type": "line", "color": "#F4A460", "strokeWidth": 1},
"encoding": {"x": {"field": "i", "type": "quantitative"}, "y": {"field": "a", "type": "quantitative"}}},
{"data": {"name": "cloud"}, "mark": {"type": "line", "color": "#D8BFD8", "strokeWidth": 1},
"encoding": {"x": {"field": "i", "type": "quantitative"}, "y": {"field": "b", "type": "quantitative"}}},
{"data": {"name": "bars"}, "mark": {"type": "rule", "color": "black", "strokeWidth": 1},
"encoding": {"x": {"field": "i", "type": "quantitative"}, "y": {"field": "l", "type": "quantitative"}, "y2": {"field": "h"}}},
{"data": {"name": "bars"}, "mark": {"type": "bar", "size": 2, "stroke": "black", "strokeWidth": 1},
"encoding": {"x": {"field": "i", "type": "quantitative"}, "y": {"field": "o", "type": "quantitative"}, "y2": {"field": "c"},
"fill": {"condition": {"test": "datum.c >= datum.o", "value": "white"}, "value": "black"}}},
{"data": {"name": "chikou"}, "mark": {"type": "line", "color": "#00FF00", "strokeWidth": 1},
"encoding": {"x": {"field": "i", "type": "quantitative"}, "y": {"field": "v", "type": "quantitative"}}},
{"data": {"name": "kijun"}, "mark": {"type": "line", "color": "#0000FF", "strokeWidth": 1},
"encoding": {"x": {"field": "i", "type": "quantitative"}, "y": {"field": "v", "type": "quantitative"}}},
{"data": {"name": "tenkan"}, "mark": {"type": "line", "color": "#FF0000", "strokeWidth": 1},
"encoding": {"x": {"field": "i", "type": "quantitative"}, "y": {"field": "v", "type": "quantitative"}}},
{"data": {"name": "levels"}, "mark": {"type": "rule", "strokeWidth": 1},
"encoding": {"y": {"field": "p", "type": "quantitative"},
"color": {"condition": {"test": "datum.kind === 'bid'", "value": "#C0C0C0"}, "value": "#4169E1"},
"strokeDash": {"condition": [{"test": "datum.kind === 'major'", "value": [17, 6]}, {"test": "datum.kind === 'bid'", "value": [1, 0]}], "value": [4, 3]}}},
{"data": {"name": "trend"}, "mark": {"type": "line", "color": "#FF0000", "strokeWidth": 3},
"encoding": {"x": {"field": "i", "type": "quantitative"}, "y": {"field": "v", "type": "quantitative"}}},
{"data": {"name": "levels"}, "mark": {"type": "bar", "orient": "horizontal", "size": 10},
"encoding": {"x": {"datum": 213.75}, "x2": {"datum": 223.9}, "y": {"field": "p", "type": "quantitative"},
"color": {"condition": {"test": "datum.kind === 'bid'", "value": "black"}, "value": "#4169E1"}}},
{"data": {"name": "levels"}, "mark": {"type": "text", "align": "left", "baseline": "middle", "color": "white", "fontSize": 9.4, "font": "Liberation Sans"},
"encoding": {"x": {"datum": 214.75}, "y": {"field": "p", "type": "quantitative"}, "text": {"field": "p", "type": "quantitative", "format": ".5f"}}},
{"data": {"values": [{"t": "EURUSD,H4\u00a0\u00a01.10439 1.10658 1.10227 1.10340"}]},
"mark": {"type": "text", "align": "left", "baseline": "middle", "color": "black", "fontSize": 9.4, "font": "Liberation Sans"},
"encoding": {"x": {"datum": 3.625}, "y": {"datum": 1.14553}, "text": {"field": "t"}}},
{"data": {"values": [{"t": "menu"}]},
"mark": {"type": "point", "shape": "M-1,-0.5L1,-0.5L0,0.5Z", "size": 36, "filled": true, "color": "black", "opacity": 1},
"encoding": {"x": {"datum": 1.55}, "y": {"datum": 1.14549}}}
]
}
